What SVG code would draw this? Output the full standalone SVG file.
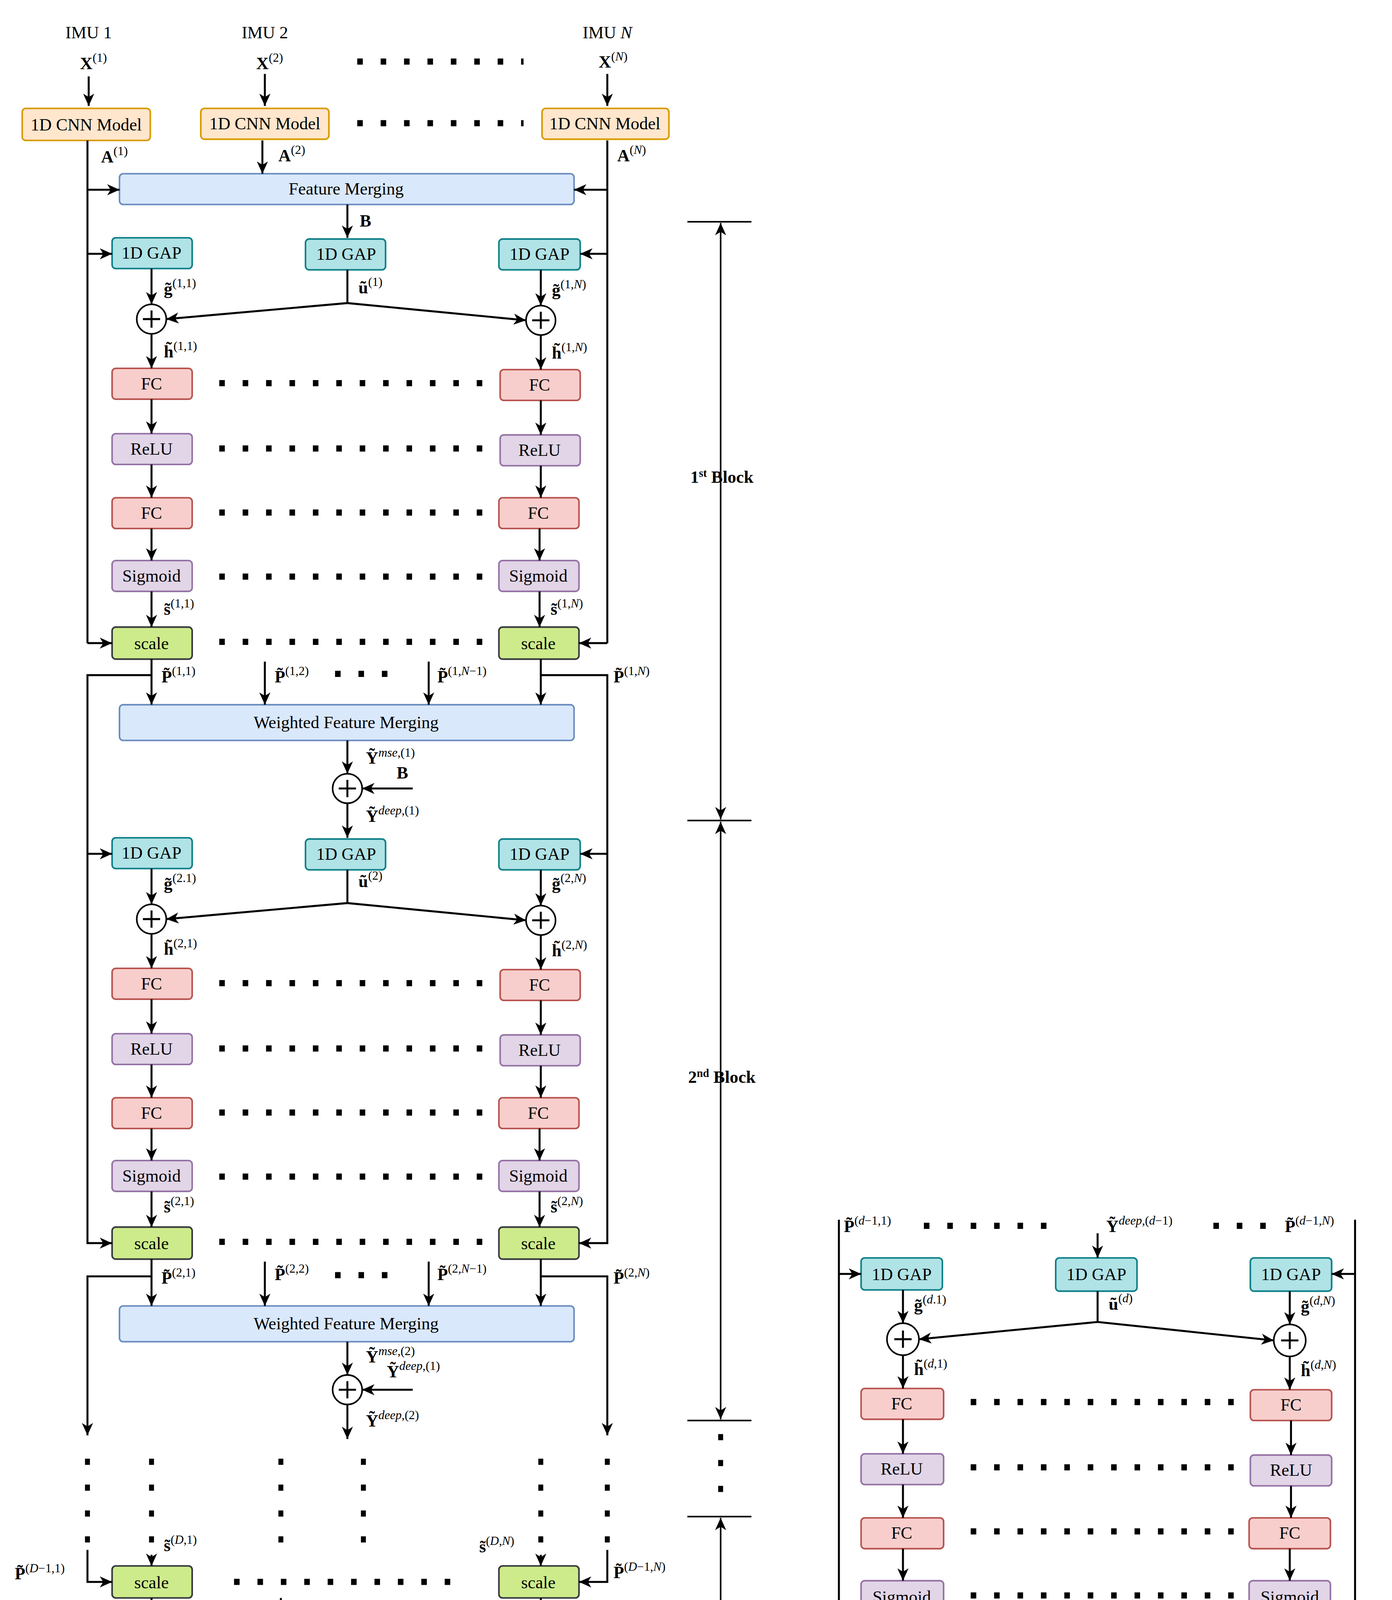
<svg xmlns="http://www.w3.org/2000/svg" width="3564" height="4968" viewBox="0 0 3564 4968">
<defs>
<marker id="ah" markerUnits="userSpaceOnUse" markerWidth="10" markerHeight="9" refX="10" refY="4.5" orient="auto-start-reverse"><path d="M0,0 L10,4.5 L0,9 L2.8,4.5 z" fill="#000"/></marker>
<style>
.bx{stroke-width:1.3}
.cnn{fill:#ffe6cc;stroke:#d79b00}
.fm{fill:#dae8fc;stroke:#6c8ebf}
.gap{fill:#b0e3e6;stroke:#0e8088}
.fc{fill:#f8cecc;stroke:#b85450}
.act{fill:#e1d5e7;stroke:#9673a6}
.sc{fill:#cdeb8b;stroke:#36393d}
.cl{fill:#ffff88;stroke:#36393d}
text{font-family:"Liberation Serif",serif;fill:#000}
.t{font-size:14px;text-anchor:middle}
.m{font-size:14px}
.b{font-weight:bold}
.s{font-size:10px}
.i{font-style:italic}
.ln{fill:none;stroke:#000;stroke-width:1.6}
.ar{fill:none;stroke:#000;stroke-width:1.6;marker-end:url(#ah)}
.ar2{fill:none;stroke:#000;stroke-width:1.3;marker-end:url(#ah);marker-start:url(#ah)}
.dots{fill:none;stroke:#000;stroke-width:5;stroke-dasharray:4.5 14.5}
.vd{fill:none;stroke:#000;stroke-width:4;stroke-dasharray:5 16}
.bl{font-size:14px;font-weight:bold;text-anchor:middle}
</style>
</defs>
<rect width="3564" height="4968" fill="#fff"/>
<g transform="scale(3.154)">
<g id="imu-labels">
<text class="t" x="72" y="31">IMU 1</text>
<text class="t" x="215" y="31">IMU 2</text>
<text class="t" x="493" y="31">IMU <tspan class="i">N</tspan></text>
<text class="m" x="65" y="56"><tspan class="b">X</tspan><tspan class="s" dy="-6">(1)</tspan></text>
<text class="m" x="208" y="56"><tspan class="b">X</tspan><tspan class="s" dy="-6">(2)</tspan></text>
<text class="m" x="486" y="55"><tspan class="b">X</tspan><tspan class="s" dy="-6">(<tspan class="i">N</tspan>)</tspan></text>
</g>
<g id="cnn1"><rect class="bx cnn" x="18" y="88" width="104" height="26" rx="3"/><text class="t" x="70" y="106">1D CNN Model</text></g>
<g id="cnn2"><rect class="bx cnn" x="163" y="88" width="104" height="25" rx="3"/><text class="t" x="215" y="105">1D CNN Model</text></g>
<g id="cnnN"><rect class="bx cnn" x="440" y="88" width="103" height="25" rx="3"/><text class="t" x="491" y="105">1D CNN Model</text></g>
<g id="fm"><rect class="bx fm" x="97" y="141" width="369" height="25" rx="3"/><text class="t" x="281" y="158">Feature Merging</text></g>

<g id="gap1-1"><rect class="bx gap" x="91" y="193" width="65" height="25" rx="3"/><text class="t" x="123" y="210">1D GAP</text></g>
<g id="gap1-m"><rect class="bx gap" x="248" y="194" width="65" height="25" rx="3"/><text class="t" x="281" y="211">1D GAP</text></g>
<g id="gap1-N"><rect class="bx gap" x="405" y="194" width="66" height="25" rx="3"/><text class="t" x="438" y="211">1D GAP</text></g>
<g id="add1-1"><circle cx="123" cy="259" r="12" fill="#fff" stroke="#000" stroke-width="1.3"/><path class="ln" d="M116,259h14M123,252v14"/></g>
<g id="add1-N"><circle cx="439" cy="260" r="12" fill="#fff" stroke="#000" stroke-width="1.3"/><path class="ln" d="M432,260h14M439,253v14"/></g>
<g id="fc1a-1"><rect class="bx fc" x="91" y="299" width="65" height="25" rx="3"/><text class="t" x="123" y="316">FC</text></g>
<g id="fc1a-N"><rect class="bx fc" x="406" y="300" width="65" height="25" rx="3"/><text class="t" x="438" y="317">FC</text></g>
<g id="relu1-1"><rect class="bx act" x="91" y="352" width="65" height="25" rx="3"/><text class="t" x="123" y="369">ReLU</text></g>
<g id="relu1-N"><rect class="bx act" x="406" y="353" width="65" height="25" rx="3"/><text class="t" x="438" y="370">ReLU</text></g>
<g id="fc1b-1"><rect class="bx fc" x="91" y="404" width="65" height="25" rx="3"/><text class="t" x="123" y="421">FC</text></g>
<g id="fc1b-N"><rect class="bx fc" x="405" y="404" width="65" height="25" rx="3"/><text class="t" x="437" y="421">FC</text></g>
<g id="sig1-1"><rect class="bx act" x="91" y="455" width="65" height="25" rx="3"/><text class="t" x="123" y="472">Sigmoid</text></g>
<g id="sig1-N"><rect class="bx act" x="405" y="455" width="65" height="25" rx="3"/><text class="t" x="437" y="472">Sigmoid</text></g>
<g id="scale1-1"><rect class="bx sc" x="91" y="509" width="65" height="26" rx="3"/><text class="t" x="123" y="527">scale</text></g>
<g id="scale1-N"><rect class="bx sc" x="405" y="509" width="65" height="26" rx="3"/><text class="t" x="437" y="527">scale</text></g>
<g id="wfm1"><rect class="bx fm" x="97" y="572" width="369" height="29" rx="3"/><text class="t" x="281" y="591">Weighted Feature Merging</text></g>
<g id="add1"><circle cx="282" cy="640" r="12" fill="#fff" stroke="#000" stroke-width="1.3"/><path class="ln" d="M275,640h14M282,633v14"/></g>

<g id="gap2-1"><rect class="bx gap" x="91" y="680" width="65" height="25" rx="3"/><text class="t" x="123" y="697">1D GAP</text></g>
<g id="gap2-m"><rect class="bx gap" x="248" y="681" width="65" height="25" rx="3"/><text class="t" x="281" y="698">1D GAP</text></g>
<g id="gap2-N"><rect class="bx gap" x="405" y="681" width="66" height="25" rx="3"/><text class="t" x="438" y="698">1D GAP</text></g>
<g id="add2-1"><circle cx="123" cy="746" r="12" fill="#fff" stroke="#000" stroke-width="1.3"/><path class="ln" d="M116,746h14M123,739v14"/></g>
<g id="add2-N"><circle cx="439" cy="747" r="12" fill="#fff" stroke="#000" stroke-width="1.3"/><path class="ln" d="M432,747h14M439,740v14"/></g>
<g id="fc2a-1"><rect class="bx fc" x="91" y="786" width="65" height="25" rx="3"/><text class="t" x="123" y="803">FC</text></g>
<g id="fc2a-N"><rect class="bx fc" x="406" y="787" width="65" height="25" rx="3"/><text class="t" x="438" y="804">FC</text></g>
<g id="relu2-1"><rect class="bx act" x="91" y="839" width="65" height="25" rx="3"/><text class="t" x="123" y="856">ReLU</text></g>
<g id="relu2-N"><rect class="bx act" x="406" y="840" width="65" height="25" rx="3"/><text class="t" x="438" y="857">ReLU</text></g>
<g id="fc2b-1"><rect class="bx fc" x="91" y="891" width="65" height="25" rx="3"/><text class="t" x="123" y="908">FC</text></g>
<g id="fc2b-N"><rect class="bx fc" x="405" y="891" width="65" height="25" rx="3"/><text class="t" x="437" y="908">FC</text></g>
<g id="sig2-1"><rect class="bx act" x="91" y="942" width="65" height="25" rx="3"/><text class="t" x="123" y="959">Sigmoid</text></g>
<g id="sig2-N"><rect class="bx act" x="405" y="942" width="65" height="25" rx="3"/><text class="t" x="437" y="959">Sigmoid</text></g>
<g id="scale2-1"><rect class="bx sc" x="91" y="996" width="65" height="26" rx="3"/><text class="t" x="123" y="1014">scale</text></g>
<g id="scale2-N"><rect class="bx sc" x="405" y="996" width="65" height="26" rx="3"/><text class="t" x="437" y="1014">scale</text></g>
<g id="wfm2"><rect class="bx fm" x="97" y="1060" width="369" height="29" rx="3"/><text class="t" x="281" y="1079">Weighted Feature Merging</text></g>
<g id="add2"><circle cx="282" cy="1128" r="12" fill="#fff" stroke="#000" stroke-width="1.3"/><path class="ln" d="M275,1128h14M282,1121v14"/></g>

<g id="scaleD-1"><rect class="bx sc" x="91" y="1271" width="65" height="26" rx="3"/><text class="t" x="123" y="1289">scale</text></g>
<g id="scaleD-N"><rect class="bx sc" x="405" y="1271" width="65" height="26" rx="3"/><text class="t" x="437" y="1289">scale</text></g>
<g id="wfmD"><rect class="bx fm" x="97" y="1336" width="369" height="27" rx="3"/><text class="t" x="281" y="1354">Weighted Feature Merging</text></g>
<g id="addD"><circle cx="282" cy="1402" r="12" fill="#fff" stroke="#000" stroke-width="1.3"/><path class="ln" d="M275,1402h14M282,1395v14"/></g>
<g id="classifier"><rect class="bx cl" x="215" y="1443" width="132" height="26" rx="3"/><text class="t" x="281" y="1461">Classifier</text></g>
<text class="t" x="282" y="1511">Predicted Activity</text>
<text x="317" y="1552" style="font-size:20px;text-anchor:middle">(<tspan font-weight="bold">a</tspan>)</text>

<g id="connectors-a">
<path class="ar" d="M72,62V86"/><path class="ar" d="M215,60V86"/><path class="ar" d="M493,60V86"/>
<path class="ln" d="M71,114V522M493,114V522"/>
<path class="ar" d="M213,114V141"/><path class="ar" d="M71,154H97"/><path class="ar" d="M493,154H466"/><path class="ar" d="M282,166V193"/>
<path class="ar" d="M71,206H91"/><path class="ar" d="M493,206H471"/>
<path class="ar" d="M123,218V247"/><path class="ar" d="M439,219V248"/><path class="ln" d="M282,219V246"/><path class="ar" d="M123,271V299"/><path class="ar" d="M439,272V300"/>
<path class="ar" d="M282,246L135,259"/><path class="ar" d="M282,246L427,260"/>
<path class="ar" d="M123,324V352"/><path class="ar" d="M439,325V353"/><path class="ar" d="M123,377V404"/><path class="ar" d="M439,378V404"/><path class="ar" d="M123,429V455"/><path class="ar" d="M438,429V455"/><path class="ar" d="M123,480V509"/><path class="ar" d="M438,480V509"/>
<path class="ar" d="M71,522H91"/><path class="ar" d="M493,522H470"/>
<path class="ar" d="M123,535V572"/><path class="ar" d="M215,537V572"/><path class="ar" d="M348,537V572"/><path class="ar" d="M439,535V572"/>
<path class="ar" d="M282,601V628"/><path class="ar" d="M335,640H294"/><path class="ar" d="M282,652V680"/>
<path class="ar" d="M123,548H71V1009H91"/><path class="ar" d="M439,548H493V1009H470"/>
<path class="ar" d="M71,693H91"/><path class="ar" d="M493,693H471"/>
<path class="ar" d="M123,705V734"/><path class="ar" d="M439,706V735"/><path class="ln" d="M282,706V733"/><path class="ar" d="M123,758V786"/><path class="ar" d="M439,759V787"/>
<path class="ar" d="M282,733L135,746"/><path class="ar" d="M282,733L427,747"/>
<path class="ar" d="M123,811V839"/><path class="ar" d="M439,812V840"/><path class="ar" d="M123,864V891"/><path class="ar" d="M439,865V891"/><path class="ar" d="M123,916V942"/><path class="ar" d="M438,916V942"/><path class="ar" d="M123,967V996"/><path class="ar" d="M438,967V996"/>
<path class="ar" d="M123,1022V1060"/><path class="ar" d="M215,1024V1060"/><path class="ar" d="M348,1024V1060"/><path class="ar" d="M439,1022V1060"/>
<path class="ar" d="M282,1089V1116"/><path class="ar" d="M335,1128H294"/><path class="ar" d="M282,1140V1168"/>
<path class="ar" d="M123,1036H71V1165"/><path class="ar" d="M439,1036H493V1165"/>
<path class="ar" d="M123,1262V1271"/><path class="ar" d="M439,1262V1271"/><path class="ar" d="M71,1258V1284H91"/><path class="ar" d="M493,1258V1284H470"/>
<path class="ar" d="M123,1297V1335"/><path class="ar" d="M228,1297V1335"/><path class="ar" d="M439,1297V1335"/>
<path class="ar" d="M282,1363V1390"/><path class="ar" d="M335,1402H294"/><path class="ar" d="M282,1414V1443"/>
<path class="dots" d="M290,50H425M290,100H425"/>
<path class="dots" d="M178,311H395M178,364H395M178,416H395M178,468H395M178,521H395"/>
<path class="dots" d="M178,798H395M178,851H395M178,903H395M178,955H395M178,1008H395"/>
<path class="dots" d="M272,547H322M272,1035H322M190,1284H375"/>
<path class="vd" d="M71,1184V1255M123,1184V1255M228,1184V1255M295,1184V1255M439,1184V1255M493,1184V1255"/>
</g>

<g id="labels-a">
<text class="m" x="82" y="132"><tspan class="b">A</tspan><tspan class="s" dy="-6">(1)</tspan></text>
<text class="m" x="226" y="131"><tspan class="b">A</tspan><tspan class="s" dy="-6">(2)</tspan></text>
<text class="m" x="501" y="131"><tspan class="b">A</tspan><tspan class="s" dy="-6">(<tspan class="i">N</tspan>)</tspan></text>
<text class="m b" x="292" y="184">B</text>
<text class="m" x="133" y="239"><tspan class="b">g̃</tspan><tspan class="s" dy="-6">(1,1)</tspan></text>
<text class="m" x="291" y="238"><tspan class="b">ũ</tspan><tspan class="s" dy="-6">(1)</tspan></text>
<text class="m" x="448" y="240"><tspan class="b">g̃</tspan><tspan class="s" dy="-6">(1,<tspan class="i">N</tspan>)</tspan></text>
<text class="m" x="133" y="290"><tspan class="b">h̃</tspan><tspan class="s" dy="-6">(1,1)</tspan></text>
<text class="m" x="448" y="291"><tspan class="b">h̃</tspan><tspan class="s" dy="-6">(1,<tspan class="i">N</tspan>)</tspan></text>
<text class="m" x="133" y="499"><tspan class="b">s̃</tspan><tspan class="s" dy="-6">(1,1)</tspan></text>
<text class="m" x="447" y="499"><tspan class="b">s̃</tspan><tspan class="s" dy="-6">(1,<tspan class="i">N</tspan>)</tspan></text>
<text class="m" x="131" y="554"><tspan class="b">P̃</tspan><tspan class="s" dy="-6">(1,1)</tspan></text>
<text class="m" x="223" y="554"><tspan class="b">P̃</tspan><tspan class="s" dy="-6">(1,2)</tspan></text>
<text class="m" x="355" y="554"><tspan class="b">P̃</tspan><tspan class="s" dy="-6">(1,<tspan class="i">N</tspan>−1)</tspan></text>
<text class="m" x="498" y="554"><tspan class="b">P̃</tspan><tspan class="s" dy="-6">(1,<tspan class="i">N</tspan>)</tspan></text>
<text class="m" x="297" y="620"><tspan class="b">Ỹ</tspan><tspan class="s" dy="-6"><tspan class="i">mse</tspan>,(1)</tspan></text>
<text class="m b" x="322" y="632">B</text>
<text class="m" x="297" y="667"><tspan class="b">Ỹ</tspan><tspan class="s" dy="-6"><tspan class="i">deep</tspan>,(1)</tspan></text>
<text class="m" x="133" y="722"><tspan class="b">g̃</tspan><tspan class="s" dy="-6">(2.1)</tspan></text>
<text class="m" x="291" y="720"><tspan class="b">ũ</tspan><tspan class="s" dy="-6">(2)</tspan></text>
<text class="m" x="448" y="722"><tspan class="b">g̃</tspan><tspan class="s" dy="-6">(2,<tspan class="i">N</tspan>)</tspan></text>
<text class="m" x="133" y="775"><tspan class="b">h̃</tspan><tspan class="s" dy="-6">(2,1)</tspan></text>
<text class="m" x="448" y="776"><tspan class="b">h̃</tspan><tspan class="s" dy="-6">(2,<tspan class="i">N</tspan>)</tspan></text>
<text class="m" x="133" y="984"><tspan class="b">s̃</tspan><tspan class="s" dy="-6">(2,1)</tspan></text>
<text class="m" x="447" y="984"><tspan class="b">s̃</tspan><tspan class="s" dy="-6">(2,<tspan class="i">N</tspan>)</tspan></text>
<text class="m" x="131" y="1042"><tspan class="b">P̃</tspan><tspan class="s" dy="-6">(2,1)</tspan></text>
<text class="m" x="223" y="1039"><tspan class="b">P̃</tspan><tspan class="s" dy="-6">(2,2)</tspan></text>
<text class="m" x="355" y="1039"><tspan class="b">P̃</tspan><tspan class="s" dy="-6">(2,<tspan class="i">N</tspan>−1)</tspan></text>
<text class="m" x="498" y="1042"><tspan class="b">P̃</tspan><tspan class="s" dy="-6">(2,<tspan class="i">N</tspan>)</tspan></text>
<text class="m" x="297" y="1106"><tspan class="b">Ỹ</tspan><tspan class="s" dy="-6"><tspan class="i">mse</tspan>,(2)</tspan></text>
<text class="m" x="314" y="1118"><tspan class="b">Ỹ</tspan><tspan class="s" dy="-6"><tspan class="i">deep</tspan>,(1)</tspan></text>
<text class="m" x="297" y="1158"><tspan class="b">Ỹ</tspan><tspan class="s" dy="-6"><tspan class="i">deep</tspan>,(2)</tspan></text>
<text class="m" x="133" y="1259"><tspan class="b">s̃</tspan><tspan class="s" dy="-6">(<tspan class="i">D</tspan>,1)</tspan></text>
<text class="m" x="389" y="1260"><tspan class="b">s̃</tspan><tspan class="s" dy="-6">(<tspan class="i">D</tspan>,<tspan class="i">N</tspan>)</tspan></text>
<text class="m" x="12" y="1282"><tspan class="b">P̃</tspan><tspan class="s" dy="-6">(<tspan class="i">D</tspan>−1,1)</tspan></text>
<text class="m" x="498" y="1281"><tspan class="b">P̃</tspan><tspan class="s" dy="-6">(<tspan class="i">D</tspan>−1,<tspan class="i">N</tspan>)</tspan></text>
<text class="m" x="129" y="1316"><tspan class="b">P̃</tspan><tspan class="s" dy="-6">(<tspan class="i">D</tspan>,1)</tspan></text>
<text class="m" x="233" y="1316"><tspan class="b">P̃</tspan><tspan class="s" dy="-6">(<tspan class="i">D</tspan>,2)</tspan></text>
<text class="m" x="447" y="1316"><tspan class="b">P̃</tspan><tspan class="s" dy="-6">(<tspan class="i">D</tspan>,<tspan class="i">N</tspan>)</tspan></text>
<text class="m" x="297" y="1380"><tspan class="b">Ỹ</tspan><tspan class="s" dy="-6"><tspan class="i">mse</tspan>,(<tspan class="i">D</tspan>)</tspan></text>
<text class="m" x="316" y="1394"><tspan class="b">Ỹ</tspan><tspan class="s" dy="-6"><tspan class="i">deep</tspan>,(<tspan class="i">D</tspan>−1)</tspan></text>
<text class="m" x="297" y="1430"><tspan class="b">Ỹ</tspan><tspan class="s" dy="-6"><tspan class="i">deep</tspan>,(<tspan class="i">D</tspan>)</tspan></text>
</g>

<g id="blocks">
<path class="ln" d="M558,180H610M558,666H610M558,1153H610M558,1231H610M558,1430H610" style="stroke-width:1.3"/>
<path class="ar2" d="M585,181V665"/><path class="ar2" d="M585,667V1152"/><path class="ar2" d="M585,1232V1429"/>
<path class="vd" d="M585,1164V1225"/>
<text class="bl" x="586" y="392">1<tspan dy="-5" font-size="9">st</tspan><tspan dy="5"> Block</tspan></text>
<text class="bl" x="586" y="879">2<tspan dy="-5" font-size="9">nd</tspan><tspan dy="5"> Block</tspan></text>
<text class="bl" x="586" y="1325"><tspan class="i">D</tspan><tspan dy="-5" font-size="9">th</tspan><tspan dy="5"> Block</tspan></text>
</g>

<g id="b-gap-1"><rect class="bx gap" x="699" y="1021" width="66" height="26" rx="3"/><text class="t" x="732" y="1039">1D GAP</text></g>
<g id="b-gap-m"><rect class="bx gap" x="857" y="1021" width="66" height="27" rx="3"/><text class="t" x="890" y="1039">1D GAP</text></g>
<g id="b-gap-N"><rect class="bx gap" x="1015" y="1021" width="66" height="27" rx="3"/><text class="t" x="1048" y="1039">1D GAP</text></g>
<g id="b-add-1"><circle cx="733" cy="1087" r="13" fill="#fff" stroke="#000" stroke-width="1.3"/><path class="ln" d="M726,1087h14M733,1080v14"/></g>
<g id="b-add-N"><circle cx="1047" cy="1088" r="13" fill="#fff" stroke="#000" stroke-width="1.3"/><path class="ln" d="M1040,1088h14M1047,1081v14"/></g>
<g id="b-fca-1"><rect class="bx fc" x="699" y="1127" width="67" height="25" rx="3"/><text class="t" x="732" y="1144">FC</text></g>
<g id="b-fca-N"><rect class="bx fc" x="1015" y="1128" width="66" height="25" rx="3"/><text class="t" x="1048" y="1145">FC</text></g>
<g id="b-relu-1"><rect class="bx act" x="699" y="1180" width="67" height="25" rx="3"/><text class="t" x="732" y="1197">ReLU</text></g>
<g id="b-relu-N"><rect class="bx act" x="1015" y="1181" width="66" height="25" rx="3"/><text class="t" x="1048" y="1198">ReLU</text></g>
<g id="b-fcb-1"><rect class="bx fc" x="699" y="1232" width="67" height="25" rx="3"/><text class="t" x="732" y="1249">FC</text></g>
<g id="b-fcb-N"><rect class="bx fc" x="1014" y="1232" width="66" height="25" rx="3"/><text class="t" x="1047" y="1249">FC</text></g>
<g id="b-sig-1"><rect class="bx act" x="699" y="1283" width="67" height="26" rx="3"/><text class="t" x="732" y="1301">Sigmoid</text></g>
<g id="b-sig-N"><rect class="bx act" x="1014" y="1283" width="66" height="26" rx="3"/><text class="t" x="1047" y="1301">Sigmoid</text></g>
<g id="b-scale-1"><rect class="bx sc" x="699" y="1337" width="67" height="26" rx="3"/><text class="t" x="732" y="1355">scale</text></g>
<g id="b-scale-N"><rect class="bx sc" x="1014" y="1337" width="66" height="26" rx="3"/><text class="t" x="1047" y="1355">scale</text></g>
<g id="b-wfm"><rect class="bx fm" x="707" y="1401" width="368" height="28" rx="3"/><text class="t" x="891" y="1420">Weighted Feature Merging</text></g>
<g id="b-add"><circle cx="891" cy="1469" r="13" fill="#fff" stroke="#000" stroke-width="1.3"/><path class="ln" d="M884,1469h14M891,1462v14"/></g>
<text x="900" y="1552" style="font-size:20px;text-anchor:middle">(<tspan font-weight="bold">b</tspan>)</text>

<g id="connectors-b">
<path class="ar" d="M681,990V1350H699"/><path class="ar" d="M1100,990V1350H1081"/>
<path class="ar" d="M681,1034H699"/><path class="ar" d="M1100,1034H1081"/><path class="ar" d="M891,1001V1021"/>
<path class="ar" d="M733,1047V1074"/><path class="ar" d="M1047,1048V1075"/><path class="ln" d="M891,1048V1073"/><path class="ar" d="M733,1100V1127"/><path class="ar" d="M1047,1101V1128"/>
<path class="ar" d="M891,1073L746,1087"/><path class="ar" d="M891,1073L1034,1088"/>
<path class="ar" d="M733,1152V1180"/><path class="ar" d="M1048,1153V1181"/><path class="ar" d="M733,1205V1232"/><path class="ar" d="M1048,1206V1232"/><path class="ar" d="M733,1257V1283"/><path class="ar" d="M1047,1257V1283"/><path class="ar" d="M733,1309V1337"/><path class="ar" d="M1047,1309V1337"/>
<path class="ar" d="M733,1363V1401"/><path class="ar" d="M825,1364V1401"/><path class="ar" d="M966,1364V1401"/><path class="ar" d="M1048,1363V1401"/>
<path class="ar" d="M733,1376H681V1508"/><path class="ar" d="M1048,1374H1100V1508"/>
<path class="ar" d="M891,1429V1456"/><path class="ar" d="M948,1469H904"/><path class="ar" d="M891,1482V1508"/>
<path class="dots" d="M750,995H862M985,995H1035"/>
<path class="dots" d="M788,1138H1012M788,1191H1012M788,1243H1012M788,1295H1012M788,1349H1012"/>
<path class="dots" d="M880,1375H940M745,1495H857M975,1495H1045"/>
</g>
<g id="labels-b">
<text class="m" x="685" y="1000"><tspan class="b">P̃</tspan><tspan class="s" dy="-6">(<tspan class="i">d</tspan>−1,1)</tspan></text>
<text class="m" x="898" y="1000"><tspan class="b">Ỹ</tspan><tspan class="s" dy="-6"><tspan class="i">deep</tspan>,(<tspan class="i">d</tspan>−1)</tspan></text>
<text class="m" x="1043" y="1000"><tspan class="b">P̃</tspan><tspan class="s" dy="-6">(<tspan class="i">d</tspan>−1,<tspan class="i">N</tspan>)</tspan></text>
<text class="m" x="742" y="1064"><tspan class="b">g̃</tspan><tspan class="s" dy="-6">(<tspan class="i">d</tspan>.1)</tspan></text>
<text class="m" x="900" y="1063"><tspan class="b">ũ</tspan><tspan class="s" dy="-6">(<tspan class="i">d</tspan>)</tspan></text>
<text class="m" x="1056" y="1065"><tspan class="b">g̃</tspan><tspan class="s" dy="-6">(<tspan class="i">d</tspan>,<tspan class="i">N</tspan>)</tspan></text>
<text class="m" x="742" y="1116"><tspan class="b">h̃</tspan><tspan class="s" dy="-6">(<tspan class="i">d</tspan>,1)</tspan></text>
<text class="m" x="1056" y="1117"><tspan class="b">h̃</tspan><tspan class="s" dy="-6">(<tspan class="i">d</tspan>,<tspan class="i">N</tspan>)</tspan></text>
<text class="m" x="742" y="1327"><tspan class="b">s̃</tspan><tspan class="s" dy="-6">(<tspan class="i">d</tspan>,1)</tspan></text>
<text class="m" x="1056" y="1328"><tspan class="b">s̃</tspan><tspan class="s" dy="-6">(<tspan class="i">d</tspan>,<tspan class="i">N</tspan>)</tspan></text>
<text class="m" x="740" y="1382"><tspan class="b">P̃</tspan><tspan class="s" dy="-6">(<tspan class="i">d</tspan>,1)</tspan></text>
<text class="m" x="832" y="1382"><tspan class="b">P̃</tspan><tspan class="s" dy="-6">(<tspan class="i">d</tspan>,2)</tspan></text>
<text class="m" x="964" y="1382"><tspan class="b">P̃</tspan><tspan class="s" dy="-6">(<tspan class="i">d</tspan>,<tspan class="i">N</tspan>−1)</tspan></text>
<text class="m" x="1057" y="1394"><tspan class="b">P̃</tspan><tspan class="s" dy="-6">(<tspan class="i">d</tspan>,<tspan class="i">N</tspan>)</tspan></text>
<text class="m" x="905" y="1446"><tspan class="b">Ỹ</tspan><tspan class="s" dy="-6"><tspan class="i">mse</tspan>,(<tspan class="i">d</tspan>)</tspan></text>
<text class="m" x="935" y="1463"><tspan class="b">Ỹ</tspan><tspan class="s" dy="-6"><tspan class="i">deep</tspan>,(<tspan class="i">d</tspan>−1)</tspan></text>
<text class="m" x="693" y="1501"><tspan class="b">P̃</tspan><tspan class="s" dy="-6">(<tspan class="i">d</tspan>,1)</tspan></text>
<text class="m" x="905" y="1501"><tspan class="b">Ỹ</tspan><tspan class="s" dy="-6"><tspan class="i">deep</tspan>,(<tspan class="i">d</tspan>)</tspan></text>
<text class="m" x="1050" y="1501"><tspan class="b">P̃</tspan><tspan class="s" dy="-6">(<tspan class="i">d</tspan>,<tspan class="i">N</tspan>)</tspan></text>
</g>
</g>
</svg>
